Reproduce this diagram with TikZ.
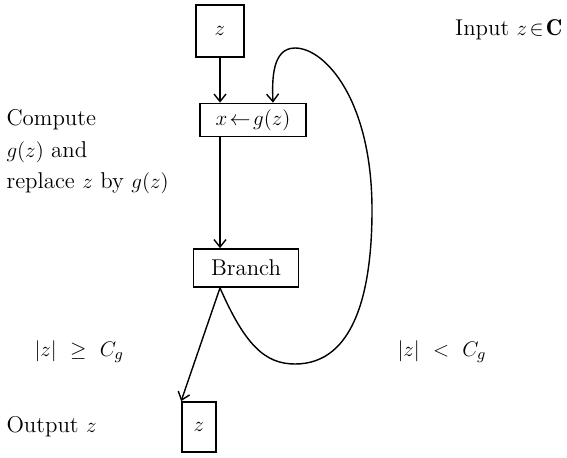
\documentclass[tikz,border=0pt]{standalone}
\usepackage{fontspec}
\usepackage{amssymb}
\usetikzlibrary{arrows.meta}

\begin{document}
\begin{tikzpicture}[>={Straight Barb[length=1.5mm,width=2.4mm]}, x=0.02cm, y=-0.02cm, font=\fontsize{13}{16}\selectfont, line width=0.8pt,
box/.style={draw, line width=1pt, inner sep=0pt}]

%\draw[step=50,color=gray!20] (0, 0) grid (567, 457);
\useasboundingbox (0,0) rectangle (567,457);

\node[box, minimum width=0.96cm, minimum height=1.04cm] (zin) at (220,31) {$z$};
\node[box, minimum width=2.12cm, minimum height=0.66cm] (upd) at (253,120) {$x\!\leftarrow\! g(z)$};
\node[box, minimum width=2.1cm, minimum height=0.76cm] (branch) at (246,268) {Branch};
\node[box, minimum width=0.68cm, minimum height=1.0cm] (zout) at (199,427) {$z$};

\node[left] (input) at (569, 30) {Input $z\!\in\!\mathbf{C}$};
\node[right] (comp1) at (0, 120) {Compute};
\node[right] (comp2) at (0, 152) {$g(z)$ and};
\node[right] (comp3) at (0, 183) {replace $z$ by $g(z)$};
\node[right] (geq) at (28, 352) {$|z|\ \geq\ C_g$};
\node[right] (less) at (391, 352) {$|z|\ <\ C_g$};
\node[right] (output) at (0, 427) {Output $z$};

\draw[->] (zin.south) -- (zin.south |- upd.north);
\draw[->] (zin.south |- upd.south) -- (zin.south |- branch.north);

% |z| >= C_g
\draw[->] (zin.south |- branch.south) -- (zout.north west);

% |z| < C_g
\draw[->] (zin.south |- branch.south) .. controls (245,345) and (265,364) .. (295,364)
.. controls (355,364) and (372,290) .. (372,210)
.. controls (372,100) and (325,48) .. (295,48)
.. controls (272,48) and (272,80) .. ([xshift=0.4cm]upd.north);

\end{tikzpicture}
\end{document}
